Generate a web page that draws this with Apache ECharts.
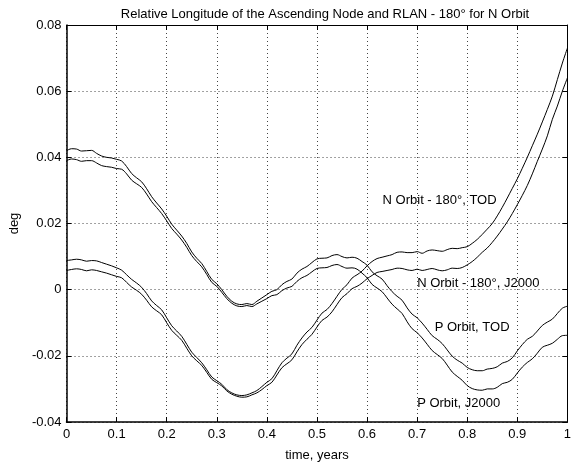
<!DOCTYPE html>
<html>
<head>
<meta charset="utf-8">
<script src="https://cdn.jsdelivr.net/npm/echarts@6/dist/echarts.min.js"></script>
<style>
html,body{margin:0;padding:0;background:#fff;}
#c{width:574px;height:467px;}
</style>
</head>
<body>
<div id="c"></div>
<script>
const titleText = 'Relative Longitude of the Ascending Node and RLAN - 180\u00b0 for N Orbit';
const xName = 'time, years';
const yName = 'deg';

const time = [0.00,0.01,0.02,0.03,0.04,0.05,0.06,0.07,0.08,0.09,
0.10,0.11,0.12,0.13,0.14,0.15,0.16,0.17,0.18,0.19,
0.20,0.21,0.22,0.23,0.24,0.25,0.26,0.27,0.28,0.29,
0.30,0.31,0.32,0.33,0.34,0.35,0.36,0.37,0.38,0.39,
0.40,0.41,0.42,0.43,0.44,0.45,0.46,0.47,0.48,0.49,
0.50,0.51,0.52,0.53,0.54,0.55,0.56,0.57,0.58,0.59,
0.60,0.61,0.62,0.63,0.64,0.65,0.66,0.67,0.68,0.69,
0.70,0.71,0.72,0.73,0.74,0.75,0.76,0.77,0.78,0.79,
0.80,0.81,0.82,0.83,0.84,0.85,0.86,0.87,0.88,0.89,
0.90,0.91,0.92,0.93,0.94,0.95,0.96,0.97,0.98,0.99,1.00];

// P Orbit, TOD
const pOrbitTOD = [0.0420,0.0426,0.0425,0.0419,0.0420,0.0421,0.0412,0.0404,0.0400,0.0398,
0.0394,0.0389,0.0372,0.0351,0.0338,0.0326,0.0305,0.0281,0.0262,0.0244,
0.0222,0.0198,0.0180,0.0162,0.0140,0.0114,0.0095,0.0079,0.0055,0.0031,
0.0018,0.0000,-0.0020,-0.0035,-0.0043,-0.0045,-0.0042,-0.0045,-0.0035,-0.0025,
-0.0015,-0.0005,0.0000,0.0015,0.0025,0.0032,0.0050,0.0062,0.0070,0.0082,
0.0093,0.0095,0.0096,0.0103,0.0106,0.0100,0.0096,0.0098,0.0095,0.0085,
0.0074,0.0054,0.0042,0.0032,0.0012,-0.0006,-0.0020,-0.0032,-0.0055,-0.0074,
-0.0085,-0.0101,-0.0120,-0.0139,-0.0150,-0.0163,-0.0182,-0.0201,-0.0213,-0.0222,
-0.0235,-0.0242,-0.0245,-0.0245,-0.0240,-0.0238,-0.0233,-0.0222,-0.0217,-0.0206,
-0.0185,-0.0166,-0.0150,-0.0141,-0.0125,-0.0108,-0.0098,-0.0089,-0.0072,-0.0056,-0.0050];

// P Orbit, J2000
const pOrbitJ2000 = [0.0390,0.0395,0.0393,0.0388,0.0390,0.0390,0.0383,0.0375,0.0372,0.0370,
0.0366,0.0364,0.0350,0.0331,0.0320,0.0309,0.0289,0.0266,0.0248,0.0230,
0.0208,0.0185,0.0168,0.0150,0.0128,0.0103,0.0085,0.0069,0.0046,0.0022,
0.0010,-0.0008,-0.0027,-0.0041,-0.0049,-0.0051,-0.0048,-0.0051,-0.0043,-0.0035,
-0.0027,-0.0018,-0.0015,-0.0003,0.0005,0.0010,0.0025,0.0036,0.0043,0.0054,
0.0064,0.0066,0.0067,0.0073,0.0076,0.0070,0.0065,0.0066,0.0062,0.0050,
0.0036,0.0016,0.0005,-0.0006,-0.0025,-0.0044,-0.0058,-0.0072,-0.0097,-0.0118,
-0.0130,-0.0146,-0.0165,-0.0184,-0.0196,-0.0208,-0.0228,-0.0249,-0.0262,-0.0274,
-0.0290,-0.0299,-0.0303,-0.0304,-0.0300,-0.0300,-0.0295,-0.0284,-0.0280,-0.0271,
-0.0252,-0.0234,-0.0220,-0.0209,-0.0192,-0.0174,-0.0168,-0.0162,-0.0150,-0.0139,-0.0138];

// N Orbit - 180°, TOD
const nOrbitTOD = [0.0088,0.0090,0.0092,0.0090,0.0086,0.0088,0.0087,0.0082,0.0077,0.0072,
0.0066,0.0059,0.0045,0.0031,0.0020,0.0007,-0.0012,-0.0034,-0.0048,-0.0061,
-0.0085,-0.0109,-0.0125,-0.0141,-0.0165,-0.0189,-0.0205,-0.0221,-0.0242,-0.0264,
-0.0275,-0.0286,-0.0302,-0.0312,-0.0318,-0.0320,-0.0318,-0.0312,-0.0305,-0.0293,
-0.0280,-0.0269,-0.0245,-0.0221,-0.0207,-0.0194,-0.0168,-0.0146,-0.0128,-0.0114,
-0.0092,-0.0071,-0.0060,-0.0042,-0.0020,0.0001,0.0015,0.0035,0.0045,0.0056,
0.0072,0.0085,0.0094,0.0098,0.0102,0.0106,0.0113,0.0114,0.0112,0.0112,
0.0115,0.0110,0.0117,0.0120,0.0118,0.0116,0.0121,0.0125,0.0124,0.0127,
0.0130,0.0140,0.0152,0.0167,0.0183,0.0200,0.0223,0.0249,0.0277,0.0306,
0.0335,0.0367,0.0400,0.0435,0.0470,0.0507,0.0545,0.0585,0.0635,0.0685,0.0730];

// N Orbit - 180°, J2000
const nOrbitJ2000 = [0.0058,0.0061,0.0063,0.0061,0.0057,0.0060,0.0058,0.0054,0.0050,0.0045,
0.0040,0.0036,0.0022,0.0008,-0.0002,-0.0014,-0.0032,-0.0052,-0.0064,-0.0076,
-0.0100,-0.0123,-0.0138,-0.0153,-0.0177,-0.0200,-0.0215,-0.0229,-0.0250,-0.0271,
-0.0281,-0.0291,-0.0306,-0.0316,-0.0322,-0.0325,-0.0324,-0.0318,-0.0312,-0.0302,
-0.0290,-0.0280,-0.0258,-0.0236,-0.0224,-0.0212,-0.0188,-0.0166,-0.0150,-0.0135,
-0.0113,-0.0093,-0.0083,-0.0067,-0.0045,-0.0024,-0.0012,0.0003,0.0010,0.0020,
0.0033,0.0043,0.0052,0.0055,0.0058,0.0061,0.0065,0.0064,0.0060,0.0058,
0.0062,0.0058,0.0061,0.0064,0.0060,0.0057,0.0060,0.0065,0.0064,0.0067,
0.0075,0.0085,0.0098,0.0113,0.0126,0.0143,0.0162,0.0183,0.0205,0.0230,
0.0257,0.0285,0.0315,0.0350,0.0388,0.0425,0.0465,0.0515,0.0555,0.0600,0.0640];

const seriesNames = ['N Orbit - 180\u00b0, TOD','N Orbit - 180\u00b0, J2000','P Orbit, TOD','P Orbit, J2000'];
const seriesValues = [nOrbitTOD, nOrbitJ2000, pOrbitTOD, pOrbitJ2000];

// text annotations anchored at data coordinates [time, deg]
const annotationText = ['N Orbit - 180\u00b0, TOD','N Orbit - 180\u00b0, J2000','P Orbit, TOD','P Orbit, J2000'];
const annotationX = [0.631, 0.700, 0.735, 0.700];
const annotationY = [0.0270, 0.0019, -0.0114, -0.0344];

const FONT = '"Liberation Sans", Arial, Helvetica, sans-serif';
const chart = echarts.init(document.getElementById('c'), null, {renderer:'canvas'});

const gridLine = {show:true, lineStyle:{color:'#444', width:1, type:[1,3]}};
const tickIn = {show:true, inside:true, length:5, lineStyle:{color:'#000', width:1}};

chart.setOption({
  animation:false,
  backgroundColor:'#fff',
  title:{
    text:titleText, left:320, top:3, textAlign:'center',
    textStyle:{fontFamily:FONT, fontSize:13, fontWeight:'normal', color:'#000'}
  },
  grid:{left:65, top:25, width:511, height:401, containLabel:false},
  xAxis:[{
    type:'value', min:0, max:1, interval:0.1, position:'bottom',
    name:xName, nameLocation:'middle', nameGap:27,
    nameTextStyle:{fontFamily:FONT, fontSize:13, color:'#000'},
    axisLine:{show:true, onZero:false, lineStyle:{color:'#000', width:1.5}},
    axisTick:tickIn,
    axisLabel:{fontFamily:FONT, fontSize:13, color:'#000', margin:6},
    splitLine:gridLine
  },{
    type:'value', min:0, max:1, interval:0.1, position:'top',
    axisLine:{show:true, onZero:false, lineStyle:{color:'#000', width:1}},
    axisTick:tickIn, axisLabel:{show:false}, splitLine:{show:false}
  }],
  yAxis:[{
    type:'value', min:-0.04, max:0.08, interval:0.02, position:'left',
    name:yName, nameLocation:'middle', nameGap:40,
    nameTextStyle:{fontFamily:FONT, fontSize:13, color:'#000'},
    axisLine:{show:true, onZero:false, lineStyle:{color:'#000', width:1.5}},
    axisTick:tickIn,
    axisLabel:{fontFamily:FONT, fontSize:13, color:'#000', margin:5},
    splitLine:gridLine
  },{
    type:'value', min:-0.04, max:0.08, interval:0.02, position:'right',
    axisLine:{show:true, onZero:false, lineStyle:{color:'#000', width:1}},
    axisTick:tickIn, axisLabel:{show:false}, splitLine:{show:false}
  }],
  series: seriesValues.map((vals, i) => ({
    name:seriesNames[i], type:'line', xAxisIndex:0, yAxisIndex:0,
    data: time.map((t, k) => [t, vals[k]]),
    showSymbol:false, symbol:'none', smooth:0.35,
    lineStyle:{color:'#000', width:1}, clip:true
  }))
});

chart.setOption({
  graphic: annotationText.map((txt, i) => {
    const p = chart.convertToPixel({xAxisIndex:0, yAxisIndex:0}, [annotationX[i], annotationY[i]]);
    return {type:'text', x:p[0], y:p[1], style:{text:txt, fill:'#000', font:'13px ' + FONT, textAlign:'left', textVerticalAlign:'middle'}};
  })
});
</script>
</body>
</html>
